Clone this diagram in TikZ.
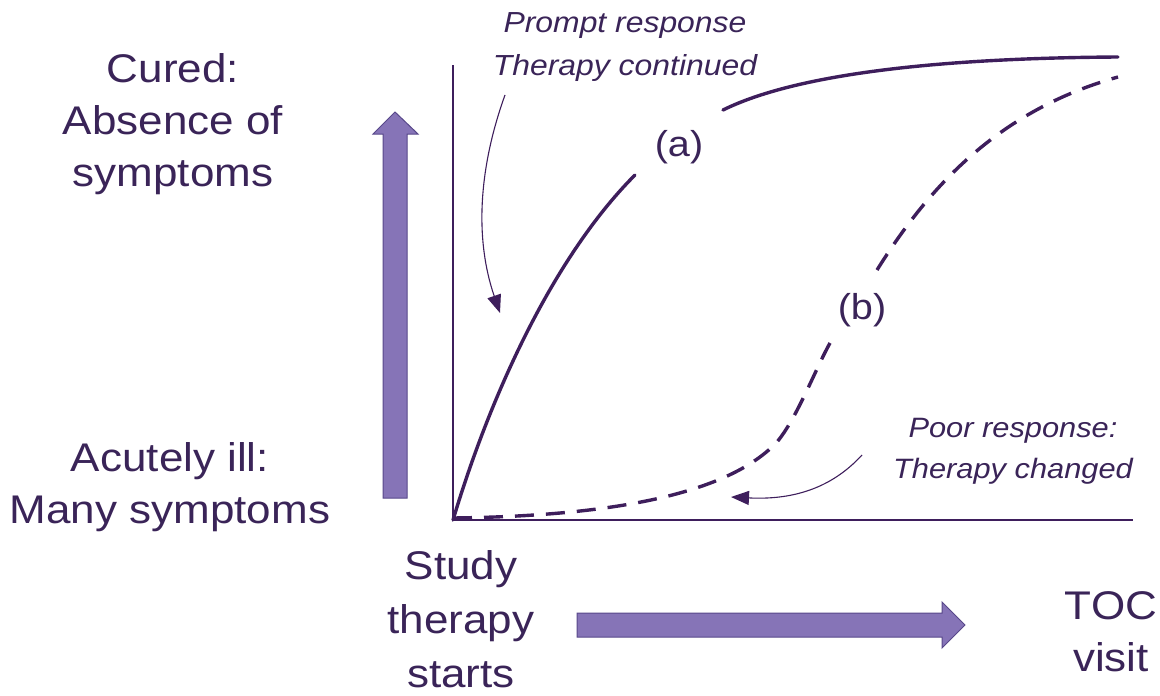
\documentclass[tikz,border=0pt]{standalone}
\usepackage{fontspec}
\setmainfont{Liberation Sans}[FakeStretch=1.1]
\usetikzlibrary{arrows.meta}
\definecolor{txtcol}{RGB}{58,36,88}
\definecolor{curvecol}{RGB}{62,30,92}
\definecolor{arrowfill}{RGB}{134,116,183}
\definecolor{arrowedge}{RGB}{88,72,138}
\begin{document}
\begin{tikzpicture}[x=1pt,y=-1pt,
  lbl/.style={font=\fontsize{40}{52}\selectfont, align=center, inner sep=0pt, text=txtcol},
  note/.style={font=\itshape\fontsize{29}{43}\selectfont, align=center, inner sep=0pt, text=txtcol},
  curvelbl/.style={font=\fontsize{36}{40}\selectfont, inner sep=0pt, text=txtcol},
  axisline/.style={draw=curvecol, line width=1.3pt},
  curvea/.style={draw=curvecol, line width=3.4pt},
  curveb/.style={draw=curvecol, line width=3.4pt, dash pattern=on 19pt off 12pt},
  pointer/.style={draw=curvecol, line width=1.1pt, -{Triangle[length=18pt,width=14pt]}},
  bigarrow/.style={fill=arrowfill, draw=arrowedge, line width=1pt, line join=miter}
]
\path[use as bounding box] (0,0) rectangle (1160,696);

% axes
\coordinate (O) at (453,520);
\coordinate (ytop) at (453,65);
\coordinate (xend) at (1133,520);
\draw[axisline] (ytop) -- (O) -- (xend);

% big arrows
\draw[bigarrow] (383,498) -- (383,134) -- (373,134) -- (395,112) -- (418,134) -- (407,134) -- (407,498) -- cycle;
\draw[bigarrow] (577,613) -- (942,613) -- (942,602) -- (965,625) -- (942,648) -- (942,637) -- (577,637) -- cycle;

% curve (a)
\coordinate (a1) at (635,175);
\coordinate (a2) at (723,110);
\coordinate (aend) at (1118,57);
\draw[curvea, line cap=round] (O) .. controls (495,380) and (560,250) .. (a1);
\draw[curvea, line cap=round] (a2) .. controls (800,72) and (950,58) .. (aend);
\node[curvelbl] (la) at (679,147) {(a)};

% curve (b)
\coordinate (b0) at (453,518);
\coordinate (bmid) at (777,442);
\coordinate (b1) at (830,343);
\coordinate (b2) at (877,270);
\coordinate (bend) at (1118,77);
\draw[curveb] (b0) .. controls (620,516) and (730,492) .. (bmid) .. controls (797,418) and (815,370) .. (b1);
\draw[curveb] (b2) .. controls (930,185) and (1000,110) .. (bend);
\node[curvelbl] (lb) at (862,310) {(b)};

% labels
\node[lbl] (cured) at (173,124) {Cured:\\Absence of\\symptoms};
\node[lbl] (acute) at (170,487) {Acutely ill:\\Many symptoms};
\node[lbl, font=\fontsize{40}{54}\selectfont] (study) at (461,619) {Study\\therapy\\starts};
\node[lbl] (toc) at (1111,632) {TOC\\visit};

% annotations
\node[note] (prompt) at (625,47) {Prompt response\\Therapy continued};
\node[note, font=\itshape\fontsize{28}{41}\selectfont] (poor) at (1013,451) {Poor response:\\Therapy changed};

\coordinate (pa1) at (505,95);
\coordinate (pa2) at (500,313);
\draw[pointer] (pa1) .. controls (478,170) and (475,240) .. (pa2);
\coordinate (pb1) at (862,455);
\coordinate (pb2) at (731,497);
\draw[pointer] (pb1) .. controls (830,490) and (790,500) .. (pb2);
\end{tikzpicture}
\end{document}
